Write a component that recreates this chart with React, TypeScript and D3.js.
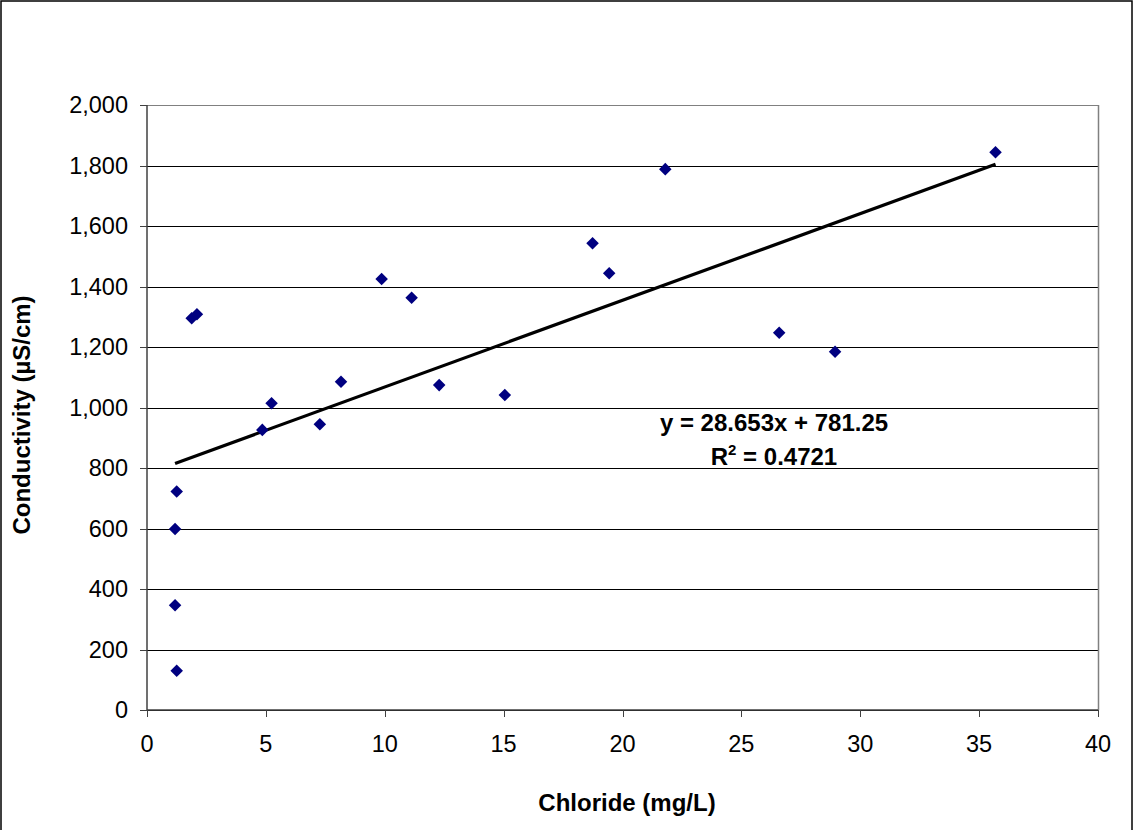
import React from "react";
import * as d3 from "d3";

const chloride = [1.88, 2.1, 4.85, 5.24, 7.27, 8.16, 9.87, 11.13, 12.29, 1.25, 1.18, 1.18, 1.25, 15.05, 18.74, 19.44, 21.8, 26.59, 28.94, 35.69];
const conductivity = [1295, 1308, 926, 1014, 945, 1085, 1425, 1363, 1074, 722, 598, 346, 130, 1041, 1543, 1444, 1788, 1247, 1184, 1844];
const xTicks = [0, 5, 10, 15, 20, 25, 30, 35, 40];
const yTicks = [0, 200, 400, 600, 800, 1000, 1200, 1400, 1600, 1800, 2000];
const slope = 28.653;
const intercept = 781.25;
const equationText = "y = 28.653x + 781.25";
const r2Value = "0.4721";
const xTitle = "Chloride (mg/L)";
const yTitle = "Conductivity (µS/cm)";

const W = 1133;
const H = 830;
const plot = { left: 147, top: 105, right: 1098, bottom: 710 };
const font = "'Liberation Sans', Arial, sans-serif";

export default function App() {
  const x = d3.scaleLinear().domain([0, 40]).range([plot.left, plot.right]);
  const y = d3.scaleLinear().domain([0, 2000]).range([plot.bottom, plot.top]);
  const fmt = d3.format(",");
  const xMin = d3.min(chloride) as number;
  const xMax = d3.max(chloride) as number;
  const trend = d3.line<number>().x((d) => x(d)).y((d) => y(slope * d + intercept));
  const diamond = d3.symbol().type(d3.symbolDiamond2).size(100)() as string;

  return (
    <svg width={W} height={H} style={{ position: "absolute", left: 0, top: 0, background: "#fff" }} fontFamily={font}>
      <rect x={1} y={1} width={W - 2} height={H + 10} fill="#fff" stroke="#000" strokeWidth={1.5} />
      {yTicks.map((t) => (
        <line key={"g" + t} x1={plot.left} x2={plot.right} y1={Math.round(y(t)) + 0.5} y2={Math.round(y(t)) + 0.5} stroke={t === 2000 ? "#808080" : "#000"} strokeWidth={1} />
      ))}
      <line x1={plot.right + 0.5} x2={plot.right + 0.5} y1={plot.top} y2={plot.bottom} stroke="#808080" strokeWidth={1.5} />
      <line x1={plot.left} x2={plot.left} y1={plot.top} y2={plot.bottom} stroke="#404040" strokeWidth={1.5} />
      <line x1={plot.left} x2={plot.right} y1={plot.bottom} y2={plot.bottom} stroke="#404040" strokeWidth={1.5} />
      {yTicks.map((t) => (
        <g key={"y" + t}>
          <line x1={plot.left - 7} x2={plot.left} y1={Math.round(y(t)) + 0.5} y2={Math.round(y(t)) + 0.5} stroke="#404040" strokeWidth={1} />
          <text x={128} y={y(t)} dy="0.35em" textAnchor="end" fontSize={23.5} fill="#000">{fmt(t)}</text>
        </g>
      ))}
      {xTicks.map((t) => (
        <g key={"x" + t}>
          <line x1={Math.round(x(t)) + 0.5} x2={Math.round(x(t)) + 0.5} y1={plot.bottom} y2={plot.bottom + 7} stroke="#404040" strokeWidth={1} />
          <text x={x(t)} y={752} textAnchor="middle" fontSize={23.5} fill="#000">{t}</text>
        </g>
      ))}
      <path d={trend([xMin, xMax]) as string} fill="none" stroke="#000" strokeWidth={3.2} />
      {chloride.map((c, i) => (
        <path key={"p" + i} d={diamond} transform={`translate(${x(c)},${y(conductivity[i])})`} fill="#000080" />
      ))}
      <text x={774} y={431} textAnchor="middle" fontSize={24} fontWeight="bold" fill="#000">{equationText}</text>
      <text x={774} y={465} textAnchor="middle" fontSize={24} fontWeight="bold" fill="#000">
        R<tspan dy={-10} fontSize={15}>2</tspan><tspan dy={10}> = {r2Value}</tspan>
      </text>
      <text x={627} y={811} textAnchor="middle" fontSize={24} fontWeight="bold" fill="#000">{xTitle}</text>
      <text transform={`translate(30,415) rotate(-90)`} textAnchor="middle" fontSize={24} fontWeight="bold" fill="#000">{yTitle}</text>
    </svg>
  );
}
